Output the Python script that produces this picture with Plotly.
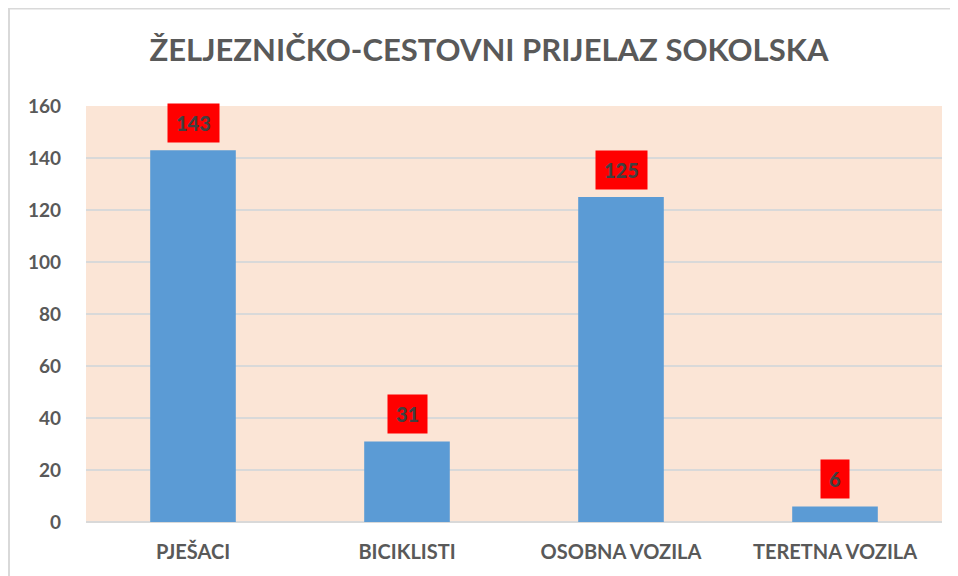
import plotly.graph_objects as go

categories = ["PJEŠACI", "BICIKLISTI", "OSOBNA VOZILA", "TERETNA VOZILA"]
values = [143, 31, 125, 6]
y_ticks = [0, 20, 40, 60, 80, 100, 120, 140, 160]
title_text = "ŽELJEZNIČKO-CESTOVNI PRIJELAZ SOKOLSKA"

FONT = "Lato"
GRAY = "#595959"

# page body has an 8px margin; the figure is sized/offset to compensate
W, H = 950, 568
ML, MR, MT, MB = 78, 16, 98, 54
PW = W - ML - MR
PH = H - MT - MB

fig = go.Figure()
fig.add_trace(go.Bar(
    x=categories, y=values,
    marker=dict(color="#5B9BD5", line=dict(width=0)),
    width=0.4,
    hoverinfo="x+y",
))

for c, v in zip(categories, values):
    fig.add_annotation(
        x=c, y=v, xref="x", yref="y",
        text=str(v),
        showarrow=False, yanchor="bottom", yshift=7,
        bgcolor="#FF0000", borderpad=8, height=22,
        font=dict(family=FONT, size=20, color="#404040", weight=900),
    )

fig.add_shape(type="rect", xref="paper", yref="paper",
              x0=(1 - ML) / PW, x1=1.3, y0=-0.4, y1=(PH + MT - 0.5) / PH,
              line=dict(color="#D9D9D9", width=2), fillcolor="rgba(0,0,0,0)",
              layer="below")

fig.update_layout(
    width=W, height=H,
    margin=dict(l=ML, r=MR, t=MT, b=MB),
    paper_bgcolor="white",
    plot_bgcolor="#FBE5D6",
    title=dict(text=title_text, x=481 / W, xanchor="center",
               y=1 - 42 / H, yanchor="middle",
               font=dict(family=FONT, size=31, color=GRAY, weight="bold")),
    xaxis=dict(tickfont=dict(family=FONT, size=20, color=GRAY, weight="bold"),
               showgrid=False, showline=False, ticks="",
               ticklabelstandoff=16),
    yaxis=dict(range=[0, 160], tickvals=y_ticks,
               tickfont=dict(family=FONT, size=19, color=GRAY, weight="bold"),
               showgrid=True, gridcolor="#D9D9D9", gridwidth=2,
               zeroline=True, zerolinecolor="#D9D9D9", zerolinewidth=2,
               ticks="", ticklabelstandoff=24),
    showlegend=False,
    bargap=0.6,
)

fig.write_html("out.html")
